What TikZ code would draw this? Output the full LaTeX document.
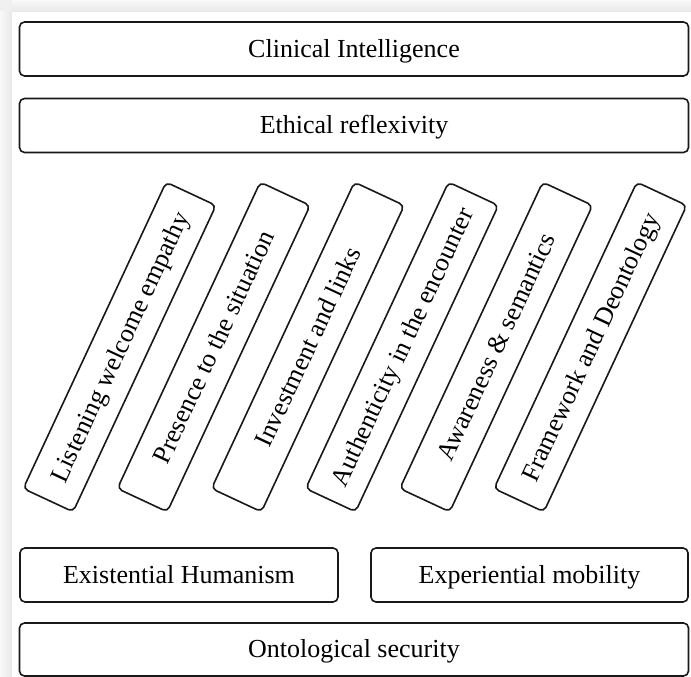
\documentclass[tikz,border=0pt]{standalone}
\usepackage{fontspec}
\setmainfont{Liberation Serif}
\begin{document}
\begin{tikzpicture}[x=1pt,y=1pt,
  bar/.style={draw=black!90, line width=1.6pt, rounded corners=5pt, inner sep=0pt,
    font=\fontsize{26}{30}\selectfont, text height=17pt, text depth=0pt,
    minimum height=54pt, anchor=center},
  slant/.style={bar, rotate=65, minimum width=338pt, minimum height=55pt}]
\useasboundingbox (0,0) rectangle (691,677);
\fill[gray!12] (0,0) rectangle (691,677);
\shade[left color=gray!5, right color=gray!18] (0,0) rectangle (12,665);
\shade[top color=gray!5, bottom color=gray!18] (12,665) rectangle (691,677);
\fill[white] (12,0) rectangle (691,665);

\node[bar, minimum width=669pt] (clin) at (354,628) {Clinical Intelligence};
\node[bar, minimum width=669pt] (eth) at (354,551.5) {Ethical reflexivity};

\node[slant] (s1) at (119.6,330) {Listening welcome empathy};
\node[slant] (s2) at (213.75,330) {Presence to the situation};
\node[slant] (s3) at (307.9,330) {Investment and links};
\node[slant] (s4) at (402.05,330) {Authenticity in the encounter};
\node[slant] (s5) at (496.2,330) {Awareness \& semantics};
\node[slant] (s6) at (590.35,330) {Framework and Deontology};

\node[bar, minimum width=318pt] (exh) at (179,102) {Existential Humanism};
\node[bar, minimum width=317pt] (exm) at (529.5,102) {Experiential mobility};
\node[bar, minimum width=669pt, minimum height=53pt] (ont) at (354,27.5) {Ontological security};
\end{tikzpicture}
\end{document}
